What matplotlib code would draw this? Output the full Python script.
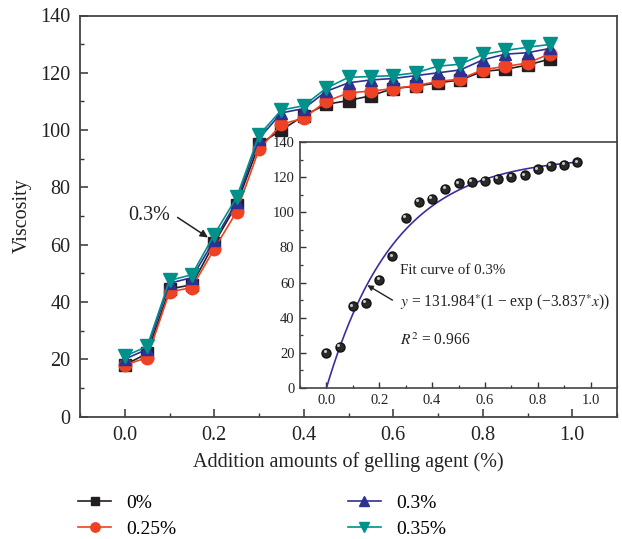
import numpy as np
import matplotlib
matplotlib.use("Agg")
import matplotlib.pyplot as plt
from matplotlib.ticker import MultipleLocator
from matplotlib.transforms import ScaledTranslation

plt.rcParams['font.family'] = ['Liberation Serif', 'DejaVu Serif']
plt.rcParams['mathtext.fontset'] = 'stix'

# ---- data ----
x = [0.0, 0.05, 0.1, 0.15, 0.2, 0.25, 0.3, 0.35, 0.4, 0.45,
     0.5, 0.55, 0.6, 0.65, 0.7, 0.75, 0.8, 0.85, 0.9, 0.95]
s_0 = [18, 22, 44.5, 46, 60.5, 74, 95, 100, 105, 109,
       110.3, 112, 114.5, 115.3, 116.5, 117.5, 120.5, 121.2, 122.7, 124.8]
s_025 = [18, 20.5, 43.5, 45, 58.5, 71.5, 93.3, 102, 104.2, 110,
         113, 113.6, 114.5, 115.5, 117, 117.8, 121.1, 122.2, 123.4, 126.6]
s_03 = [20, 23.5, 46.5, 48.5, 61.5, 75, 97, 106, 107.5, 113.5,
        116.5, 117.5, 118, 119, 120, 121, 124.5, 126.5, 127, 128.5]
s_035 = [21, 24.5, 47.5, 49.5, 63.5, 76.5, 98.2, 107, 108.5, 114.6,
         118.4, 118.7, 119, 120, 122.3, 123, 126.4, 127.8, 128.9, 129.9]
labels = ['0%', '0.25%', '0.3%', '0.35%']
fit_a, fit_b = 131.984, 3.837

colors = ['#231f20', '#ef4123', '#2e3192', '#00918a']
markers = ['s', 'o', '^', 'v']
msizes = [8, 9, 9, 10]

fig = plt.figure(figsize=(6.22, 5.39), dpi=100)
ax = fig.add_axes([80/622, 1-416.5/539, 537/622, 401/539])

series = [s_0, s_025, s_03, s_035]
handles = []
for s, c, m, ms, lab in zip(series, colors, markers, msizes, labels):
    h, = ax.plot(x, s, color=c, marker=m, markersize=ms, lw=1.2,
                 markeredgecolor=c, label=lab)
    handles.append(h)

ax.set_xlim(-0.1, 1.1)
ax.set_ylim(0, 140)
ax.xaxis.set_major_locator(MultipleLocator(0.2))
ax.xaxis.set_minor_locator(MultipleLocator(0.1))
ax.yaxis.set_major_locator(MultipleLocator(20))
ax.yaxis.set_minor_locator(MultipleLocator(10))
ax.xaxis.set_major_formatter(matplotlib.ticker.FormatStrFormatter('%.1f'))
ax.tick_params(which='both', direction='in', colors='#333333',
               labelcolor='#222222', labelsize=14.5, top=False, right=False)
ax.tick_params(which='major', length=6, width=1.1, pad=7)
ax.tick_params(which='minor', length=3, width=1.0)
for sp in ax.spines.values():
    sp.set_color('#444444')
    sp.set_linewidth(1.3)
ax.set_xlabel('Addition amounts of gelling agent (%)', fontsize=14.5,
              color='#222222', labelpad=5)
ax.set_ylabel('Viscosity', fontsize=14.5, color='#222222', labelpad=6)

ax.text(0.055, 70, '0.3%', fontsize=14.5, ha='center', va='center',
        color='#222222')
ax.annotate('', xy=(0.186, 62.5), xytext=(0.118, 69.5),
            arrowprops=dict(arrowstyle='-|>', color='#222222', lw=1.1,
                            mutation_scale=11, shrinkA=0, shrinkB=0))

fig.legend(handles=handles, labels=labels, ncol=2, frameon=False,
           loc='upper left', bbox_to_anchor=(78/622, 1-494/539),
           borderpad=0, borderaxespad=0, fontsize=14,
           handlelength=1.7, handletextpad=0.8, columnspacing=8.8,
           labelspacing=0.45, markerscale=0.75)

# ---- inset ----
ins = fig.add_axes([300/622, 1-388/539, 317/622, 246/539])
ins.plot(x, s_03, linestyle='none', marker='o', markersize=6.5,
         markerfacecolor='#2a2a2a', markeredgecolor='#111111', zorder=3)
hl = ins.transData + ScaledTranslation(-1.2/72, 1.2/72, fig.dpi_scale_trans)
ins.plot(x, s_03, linestyle='none', marker='o', markersize=2.2,
         markerfacecolor='#c8c8c8', markeredgewidth=0, zorder=4,
         transform=hl)
xf = np.linspace(0, 0.95, 200)
ins.plot(xf, fit_a * (1 - np.exp(-fit_b * xf)), color='#3a2fa0', lw=1.2)
ins.set_xlim(-0.1, 1.1)
ins.set_ylim(0, 140)
ins.xaxis.set_major_locator(MultipleLocator(0.2))
ins.xaxis.set_minor_locator(MultipleLocator(0.1))
ins.yaxis.set_major_locator(MultipleLocator(20))
ins.yaxis.set_minor_locator(MultipleLocator(10))
ins.xaxis.set_major_formatter(matplotlib.ticker.FormatStrFormatter('%.1f'))
ins.tick_params(which='both', direction='in', colors='#333333',
                labelcolor='#222222', labelsize=10.5, top=False, right=False)
ins.tick_params(which='major', length=4, width=1.0, pad=4)
ins.tick_params(which='minor', length=2.5, width=0.9)
for sp in ins.spines.values():
    sp.set_color('#444444')
    sp.set_linewidth(1.2)

ins.text(0.28, 67, 'Fit curve of 0.3%', fontsize=10.8, color='#222222',
         va='center', ha='left')
ins.text(0.28, 48.5, r'$y$ = 131.984$^{*}$(1 − exp (−3.837$^{*}$$x$))',
         fontsize=11.2, color='#222222', va='center', ha='left')
ins.text(0.28, 27, r'$R^2$ = 0.966', fontsize=11.2, color='#222222',
         va='center', ha='left')
ins.annotate('', xy=(0.155, 58.5), xytext=(0.25, 50),
             arrowprops=dict(arrowstyle='-|>', color='#222222', lw=1.0,
                             mutation_scale=8, shrinkA=0, shrinkB=0))

fig.savefig('out.png', dpi=100)
